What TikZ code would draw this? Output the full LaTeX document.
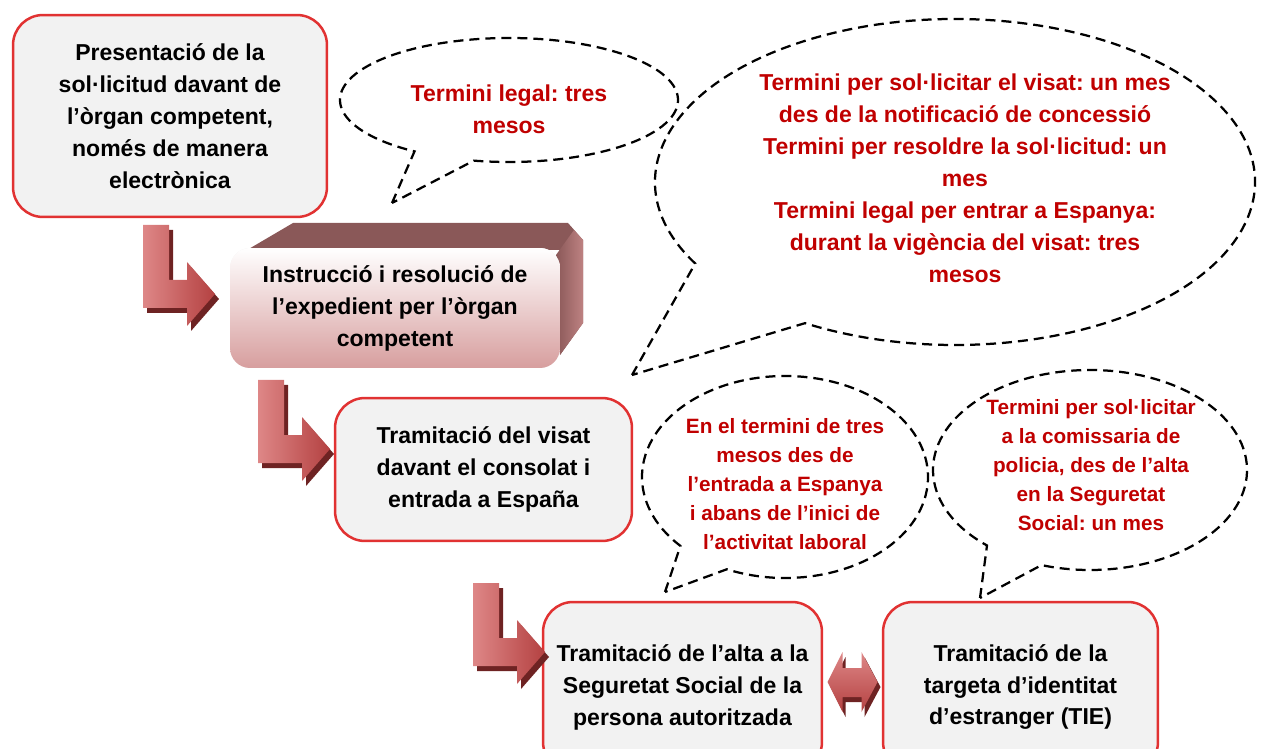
\documentclass[tikz,border=0pt]{standalone}
\usepackage{fontspec}
\setmainfont{Liberation Sans}
\usetikzlibrary{calc}
\frenchspacing

\definecolor{boxred}{RGB}{225,50,50}
\definecolor{boxgray}{RGB}{242,242,242}
\definecolor{notered}{RGB}{192,0,0}
\definecolor{arrowlight}{RGB}{222,135,135}
\definecolor{arrowmid}{RGB}{180,65,65}
\definecolor{arrowdark}{RGB}{110,35,35}
\definecolor{topface}{RGB}{138,88,88}
\definecolor{sideface}{RGB}{190,130,130}
\definecolor{frontpink}{RGB}{215,158,158}

\tikzset{
  stepbox/.style={draw=boxred, line width=0.05cm, fill=boxgray, rounded corners=0.6cm,
    inner sep=0pt, align=center, font=\fontsize{13.1}{18.2}\selectfont\bfseries},
  bubble/.style={draw=black, line width=0.045cm, dash pattern=on 0.2cm off 0.12cm},
  bigtext/.style={align=center, text=notered, font=\fontsize{13.1}{18.2}\selectfont\bfseries},
  smalltext/.style={align=center, text=notered, font=\fontsize{11.8}{16.5}\selectfont\bfseries},
  bendarrow/.pic={
    \fill[arrowdark, shift={(4,5)}] (0,0) -- (26,0) -- (26,55) -- (44,55) -- (44,37) -- (72,69)
      -- (44,101) -- (44,83) -- (0,83) -- cycle;
    \shade[left color=arrowlight, right color=arrowmid] (0,0) -- (26,0) -- (26,55) -- (44,55)
      -- (44,37) -- (72,69) -- (44,101) -- (44,83) -- (0,83) -- cycle;
  },
  twoway/.pic={
    \fill[arrowdark, shift={(3,5)}] (-25,0) -- (-10,-30) -- (-10,-14) -- (9,-14) -- (9,-30) -- (25,0)
      -- (9,30) -- (9,15) -- (-10,15) -- (-10,30) -- cycle;
    \shade[top color=arrowlight, bottom color=arrowmid] (-25,0) -- (-10,-30) -- (-10,-14) -- (9,-14)
      -- (9,-30) -- (25,0) -- (9,30) -- (9,15) -- (-10,15) -- (-10,30) -- cycle;
  }
}

\begin{document}
\begin{tikzpicture}[x=0.02cm, y=-0.02cm]
    \useasboundingbox (0,0) rectangle (1263,749);

    % Callouts
    \draw[bubble] (392,203) -- ([shift={(509,100)}]124:169 and 62)
      arc[start angle=124, end angle=462, x radius=169, y radius=62] -- cycle;
    \draw[bubble] (632,375) -- ([shift={(955,182)}]150:300 and 163)
      arc[start angle=150, end angle=480, x radius=300, y radius=163] -- cycle;
    \draw[bubble] (665,592) -- ([shift={(785,477)}]137:143 and 101)
      arc[start angle=137, end angle=474, x radius=143, y radius=101] -- cycle;
    \draw[bubble] (980,598) -- ([shift={(1090,470)}]131:157 and 100)
      arc[start angle=131, end angle=468, x radius=157, y radius=100] -- cycle;

    % Callout texts
    \node[bigtext] (legal) at (509,109) {Termini legal: tres\\mesos};
    \node[bigtext] (visat) at (965,178) {Termini per sol·licitar el visat: un mes\\des de la notificació de concessió\\Termini per resoldre la sol·licitud: un\\mes\\Termini legal per entrar a Espanya:\\durant la vigència del visat: tres\\mesos};
    \node[smalltext] (entrada) at (785,484) {En el termini de tres\\mesos des de\\l’entrada a Espanya\\i abans de l’inici de\\l’activitat laboral};
    \node[smalltext] (policia) at (1091,465) {Termini per sol·licitar\\a la comissaria de\\policia, des de l’alta\\en la Seguretat\\Social: un mes};

    % Raised box
    \fill[topface] (247,250) -- (293,223) -- (568,223) -- (583,240) -- (583,323) -- (560,355) -- (560,250) -- cycle;
    \shade[left color=topface, right color=sideface] (556,255) -- (574,230) -- (583,240) -- (583,323) -- (560,355) -- cycle;

    % Steps
    \node[stepbox] (solicitud) at (170,116) [minimum width=6.28cm, minimum height=4.04cm]
      {Presentació de la\\sol·licitud davant de\\l’òrgan competent,\\només de manera\\electrònica};
    \node[stepbox, draw=none, top color=white, bottom color=frontpink, rounded corners=0.4cm] (expedient)
      at (395,308) [minimum width=6.6cm, minimum height=2.4cm]
      {Instrucció i resolució de\\l’expedient per l’òrgan\\competent};
    \node[stepbox] (consolat) at (483.5,469.5) [minimum width=5.94cm, minimum height=2.86cm]
      {Tramitació del visat\\davant el consolat i\\entrada a España};
    \node[stepbox] (seg) at (682.5,687) [minimum width=5.58cm, minimum height=3.4cm]
      {Tramitació de l’alta a la\\Seguretat Social de la\\persona autoritzada};
    \node[stepbox] (tie) at (1020.5,687) [minimum width=5.5cm, minimum height=3.4cm]
      {Tramitació de la\\targeta d’identitat\\d’estranger (TIE)};

    % Bent arrows
    \pic at (143,225) {bendarrow};
    \pic at (258,380) {bendarrow};
    \pic at (473,583) {bendarrow};

    % Two-way arrow
    \pic at ($(seg.east)!0.5!(tie.west)+(0,-5)$) {twoway};
\end{tikzpicture}
\end{document}
